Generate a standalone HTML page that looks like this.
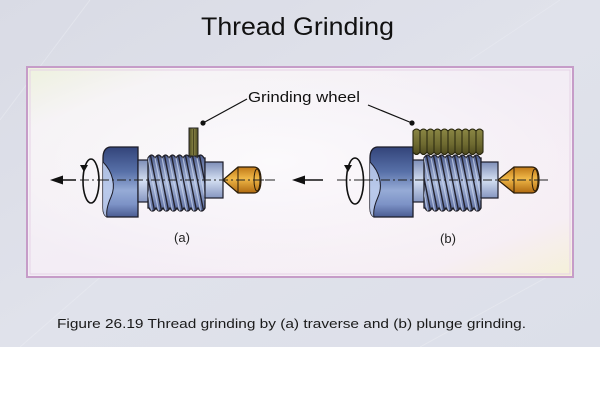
<!DOCTYPE html>
<html><head><meta charset="utf-8"><style>
html,body{margin:0;padding:0;background:#fff;}
svg{display:block;}
text{font-family:"Liberation Sans",Arial,sans-serif;}
</style></head><body>
<svg width="600" height="400" viewBox="0 0 600 400" xmlns="http://www.w3.org/2000/svg">
<defs>
  <linearGradient id="bg" x1="0" y1="0" x2="1" y2="1">
    <stop offset="0" stop-color="#d9dbe5"/>
    <stop offset="0.5" stop-color="#e0e2eb"/>
    <stop offset="1" stop-color="#dcdfe9"/>
  </linearGradient>
  <linearGradient id="frame" x1="0" y1="0" x2="1" y2="1">
    <stop offset="0" stop-color="#eef2de"/>
    <stop offset="0.15" stop-color="#f4f1f4"/>
    <stop offset="0.5" stop-color="#f3edf5"/>
    <stop offset="0.85" stop-color="#f6eef4"/>
    <stop offset="1" stop-color="#f5f0d8"/>
  </linearGradient>
  <radialGradient id="glow" cx="0.45" cy="0.45" r="0.6">
    <stop offset="0" stop-color="#ffffff" stop-opacity="0.7"/>
    <stop offset="1" stop-color="#ffffff" stop-opacity="0"/>
  </radialGradient>
  <linearGradient id="chuck" x1="0" y1="0" x2="0" y2="1">
    <stop offset="0" stop-color="#33447a"/>
    <stop offset="0.35" stop-color="#5770a8"/>
    <stop offset="0.62" stop-color="#96abd6"/>
    <stop offset="0.82" stop-color="#7c92c6"/>
    <stop offset="1" stop-color="#4a5c92"/>
  </linearGradient>
  <linearGradient id="shaft" x1="0" y1="0" x2="0" y2="1">
    <stop offset="0" stop-color="#7e8eb8"/>
    <stop offset="0.5" stop-color="#d4dff2"/>
    <stop offset="1" stop-color="#8696c0"/>
  </linearGradient>
  <linearGradient id="thread" x1="0" y1="0" x2="0" y2="1">
    <stop offset="0" stop-color="#4e5e90"/>
    <stop offset="0.5" stop-color="#a8b8da"/>
    <stop offset="1" stop-color="#5a6a9e"/>
  </linearGradient>
  <linearGradient id="gold" x1="0" y1="0" x2="0" y2="1">
    <stop offset="0" stop-color="#c07818"/>
    <stop offset="0.45" stop-color="#f0b848"/>
    <stop offset="1" stop-color="#b06a10"/>
  </linearGradient>
  <linearGradient id="olive" x1="0" y1="0" x2="1" y2="0">
    <stop offset="0" stop-color="#4c4a20"/>
    <stop offset="0.5" stop-color="#8a8646"/>
    <stop offset="1" stop-color="#4a4820"/>
  </linearGradient>
  <linearGradient id="olive2" x1="0" y1="0" x2="0" y2="1">
    <stop offset="0" stop-color="#8a8644"/>
    <stop offset="0.6" stop-color="#6e6a30"/>
    <stop offset="1" stop-color="#4e4a20"/>
  </linearGradient>
  <clipPath id="thc">
    <path d="M0,158 q3.5,-6 7,0 q3.5,-6 7,0 q3.5,-6 7,0 q3.5,-6 7,0 q3.5,-6 7,0 q3.5,-6 7,0 q3.5,-6 7,0 q3.5,-6 7,0 L57,158 L57,208 q-3.5,6 -7,0 q-3.5,6 -7,0 q-3.5,6 -7,0 q-3.5,6 -7,0 q-3.5,6 -7,0 q-3.5,6 -7,0 q-3.5,6 -7,0 q-3.5,6 -7,0 L0,208 Z"/>
  </clipPath>
  <g id="threadg">
    <path d="M0,158 q3.5,-6 7,0 q3.5,-6 7,0 q3.5,-6 7,0 q3.5,-6 7,0 q3.5,-6 7,0 q3.5,-6 7,0 q3.5,-6 7,0 q3.5,-6 7,0 L57,158 L57,208 q-3.5,6 -7,0 q-3.5,6 -7,0 q-3.5,6 -7,0 q-3.5,6 -7,0 q-3.5,6 -7,0 q-3.5,6 -7,0 q-3.5,6 -7,0 q-3.5,6 -7,0 L0,208 Z" fill="url(#thread)" stroke="#1c1c24" stroke-width="1.3"/>
    <g clip-path="url(#thc)" stroke="#22222e" stroke-width="1.4">
      <line x1="-12" y1="153" x2="0" y2="213"/>
      <line x1="-5" y1="153" x2="7" y2="213"/>
      <line x1="2" y1="153" x2="14" y2="213"/>
      <line x1="9" y1="153" x2="21" y2="213"/>
      <line x1="16" y1="153" x2="28" y2="213"/>
      <line x1="23" y1="153" x2="35" y2="213"/>
      <line x1="30" y1="153" x2="42" y2="213"/>
      <line x1="37" y1="153" x2="49" y2="213"/>
      <line x1="44" y1="153" x2="56" y2="213"/>
      <line x1="51" y1="153" x2="63" y2="213"/>
    </g>
    <g clip-path="url(#thc)" stroke="#d0dbf0" stroke-width="1.2" opacity="0.7">
      <line x1="-8" y1="153" x2="4" y2="213"/>
      <line x1="-1" y1="153" x2="11" y2="213"/>
      <line x1="6" y1="153" x2="18" y2="213"/>
      <line x1="13" y1="153" x2="25" y2="213"/>
      <line x1="20" y1="153" x2="32" y2="213"/>
      <line x1="27" y1="153" x2="39" y2="213"/>
      <line x1="34" y1="153" x2="46" y2="213"/>
      <line x1="41" y1="153" x2="53" y2="213"/>
      <line x1="48" y1="153" x2="60" y2="213"/>
    </g>
  </g>
</defs>

<!-- background -->
<rect x="0" y="0" width="600" height="347" fill="url(#bg)"/>
<g stroke="#eceef4" stroke-width="1" opacity="0.5" fill="none">
  <line x1="0" y1="120" x2="90" y2="0"/>
  <line x1="20" y1="347" x2="120" y2="260"/>
  <line x1="420" y1="347" x2="560" y2="270"/>
  <line x1="470" y1="60" x2="560" y2="0"/>
</g>
<rect x="0" y="347" width="600" height="53" fill="#ffffff"/>

<!-- title -->
<text x="201" y="35" font-size="25" fill="#111" textLength="193" lengthAdjust="spacingAndGlyphs">Thread Grinding</text>

<!-- frame -->
<rect x="27" y="67" width="546" height="210" fill="url(#frame)" stroke="#c69cc8" stroke-width="2"/>
<rect x="28" y="68" width="544" height="208" fill="url(#glow)"/>
<rect x="30" y="70" width="540" height="204" fill="none" stroke="#e6d2e6" stroke-width="1"/>

<!-- label -->
<text x="248" y="102" font-size="15" fill="#111" textLength="112" lengthAdjust="spacingAndGlyphs">Grinding wheel</text>
<line x1="203" y1="123" x2="247" y2="99" stroke="#111" stroke-width="1.2"/>
<circle cx="203" cy="123" r="2.6" fill="#111"/>
<line x1="368" y1="105" x2="412" y2="123" stroke="#111" stroke-width="1.2"/>
<circle cx="412" cy="123" r="2.6" fill="#111"/>

<!-- ============ (a) ============ -->
<line x1="58" y1="180" x2="76" y2="180" stroke="#111" stroke-width="1.6"/>
<polygon points="50,180 63,175.5 63,184.5" fill="#111"/>
<line x1="80" y1="180" x2="275" y2="180" stroke="#222" stroke-width="1" stroke-dasharray="9,3,2,3"/>
<!-- rotation -->
<ellipse cx="91" cy="181" rx="8" ry="22" fill="none" stroke="#111" stroke-width="1.6"/>
<polygon points="80,165 88,165 84,172" fill="#111"/>
<!-- chuck -->
<path d="M110,147 L138,147 L138,217 L107,217 Q103,215 103,208 L103,158 Q103,148 110,147 Z" fill="url(#chuck)" stroke="#1c1c28" stroke-width="1.3"/>
<path d="M103,162 C113,172 116,186 111,197 C107,206 106,212 107,217 Q103,215 103,208 Z" fill="#c0cfee" opacity="0.85"/>
<path d="M103,162 C113,172 116,186 111,197 C107,206 106,212 107,217" fill="none" stroke="#1c1c28" stroke-width="1"/>
<!-- left shaft -->
<rect x="138" y="160" width="11" height="42" fill="url(#shaft)" stroke="#1c1c28" stroke-width="1.2"/>
<!-- thread -->
<use href="#threadg" transform="translate(148,0)"/>
<!-- right shaft -->
<rect x="205" y="162" width="18" height="36" fill="url(#shaft)" stroke="#1c1c28" stroke-width="1.2"/>
<!-- center -->
<path d="M223,180 L238,167 L254,167 Q261,167 261,180 Q261,193 254,193 L238,193 Z" fill="url(#gold)" stroke="#2a1c08" stroke-width="1.2"/>
<line x1="238" y1="167" x2="238" y2="193" stroke="#2a1c08" stroke-width="1"/>
<ellipse cx="257" cy="180" rx="3" ry="11" fill="none" stroke="#2a1c08" stroke-width="1"/>
<line x1="100" y1="180" x2="275" y2="180" stroke="#222" stroke-width="1" stroke-dasharray="9,3,2,3"/>
<!-- wheel a -->
<rect x="189" y="128" width="9" height="28" fill="url(#olive)" stroke="#222" stroke-width="1"/>
<line x1="193.5" y1="129" x2="193.5" y2="155" stroke="#3a3818" stroke-width="0.8"/>
<text x="182" y="242" font-size="13" fill="#222" text-anchor="middle">(a)</text>

<!-- ============ (b) ============ -->
<line x1="300" y1="180" x2="323" y2="180" stroke="#111" stroke-width="1.6"/>
<polygon points="292,180 305,175.5 305,184.5" fill="#111"/>
<line x1="337" y1="180" x2="548" y2="180" stroke="#222" stroke-width="1" stroke-dasharray="9,3,2,3"/>
<ellipse cx="355" cy="181" rx="8.5" ry="23" fill="none" stroke="#111" stroke-width="1.6"/>
<polygon points="344,165 352,165 348,172" fill="#111"/>
<!-- chuck b -->
<path d="M377,147 L413,147 L413,217 L374,217 Q370,215 370,208 L370,158 Q370,148 377,147 Z" fill="url(#chuck)" stroke="#1c1c28" stroke-width="1.3"/>
<path d="M370,162 C380,172 383,186 378,197 C374,206 373,212 374,217 Q370,215 370,208 Z" fill="#c0cfee" opacity="0.85"/>
<path d="M370,162 C380,172 383,186 378,197 C374,206 373,212 374,217" fill="none" stroke="#1c1c28" stroke-width="1"/>
<rect x="413" y="160" width="12" height="42" fill="url(#shaft)" stroke="#1c1c28" stroke-width="1.2"/>
<use href="#threadg" transform="translate(424,0)"/>
<rect x="481" y="162" width="17" height="36" fill="url(#shaft)" stroke="#1c1c28" stroke-width="1.2"/>
<path d="M498,180 L514,167 L532,167 Q539,167 539,180 Q539,193 532,193 L514,193 Z" fill="url(#gold)" stroke="#2a1c08" stroke-width="1.2"/>
<line x1="514" y1="167" x2="514" y2="193" stroke="#2a1c08" stroke-width="1"/>
<ellipse cx="535" cy="180" rx="3" ry="11" fill="none" stroke="#2a1c08" stroke-width="1"/>
<line x1="364" y1="180" x2="548" y2="180" stroke="#222" stroke-width="1" stroke-dasharray="9,3,2,3"/>
<!-- wheel b -->
<path d="M413,131 q3.5,-4 7,0 q3.5,-4 7,0 q3.5,-4 7,0 q3.5,-4 7,0 q3.5,-4 7,0 q3.5,-4 7,0 q3.5,-4 7,0 q3.5,-4 7,0 q3.5,-4 7,0 q3.5,-4 7,0 L483,152 q-3.5,5 -7,0 q-3.5,5 -7,0 q-3.5,5 -7,0 q-3.5,5 -7,0 q-3.5,5 -7,0 q-3.5,5 -7,0 q-3.5,5 -7,0 q-3.5,5 -7,0 q-3.5,5 -7,0 q-3.5,5 -7,0 Z" fill="url(#olive2)" stroke="#2a2810" stroke-width="1.1"/>
<g stroke="#2e2c12" stroke-width="1.1">
  <line x1="420" y1="131" x2="420" y2="152"/>
  <line x1="427" y1="131" x2="427" y2="152"/>
  <line x1="434" y1="131" x2="434" y2="152"/>
  <line x1="441" y1="131" x2="441" y2="152"/>
  <line x1="448" y1="131" x2="448" y2="152"/>
  <line x1="455" y1="131" x2="455" y2="152"/>
  <line x1="462" y1="131" x2="462" y2="152"/>
  <line x1="469" y1="131" x2="469" y2="152"/>
  <line x1="476" y1="131" x2="476" y2="152"/>
</g>
<text x="448" y="243" font-size="13" fill="#222" text-anchor="middle">(b)</text>

<!-- caption -->
<text x="57" y="328" font-size="13" fill="#1a1a1a" textLength="469" lengthAdjust="spacingAndGlyphs">Figure 26.19  Thread grinding by (a) traverse and (b) plunge grinding.</text>
</svg>
</body></html>
